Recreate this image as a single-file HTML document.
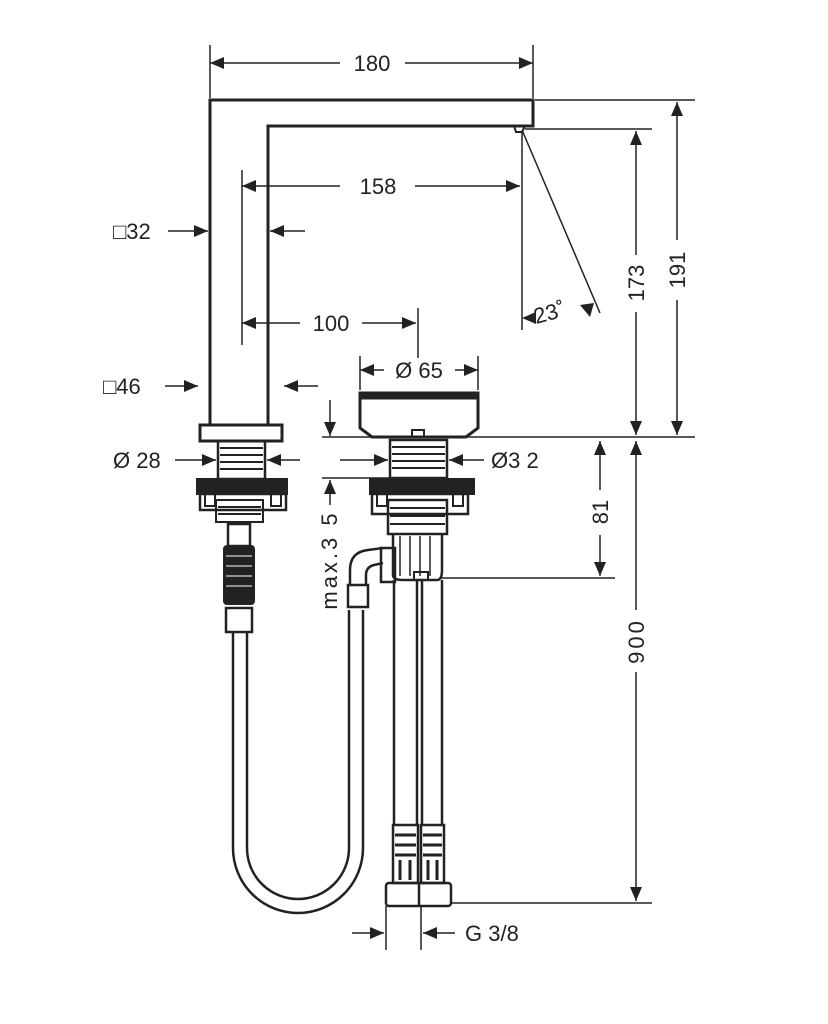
<!DOCTYPE html>
<html><head><meta charset="utf-8"><style>html,body{margin:0;padding:0;background:#fff}svg{display:block}text{font-family:"Liberation Sans",sans-serif;font-size:22px;fill:#222}</style></head>
<body>
<svg width="828" height="1024" viewBox="0 0 828 1024" xmlns="http://www.w3.org/2000/svg">
<defs>
<marker id="a" viewBox="0 0 14 12" refX="14" refY="6" markerWidth="14" markerHeight="12" markerUnits="userSpaceOnUse" orient="auto"><path d="M0,0L14,6L0,12z" fill="#222"/></marker>
</defs>
<g stroke="#222" fill="none">
<path d="M210,425V100H533V126H268V425" stroke-width="3"/>
<path d="M514,126l2,6h6l3,-6" stroke-width="2"/>
<rect x="200" y="425" width="82" height="16" stroke-width="3"/>
<rect x="218" y="441" width="47" height="38" stroke-width="2.5"/>
<path d="M220,448h43M220,455h43M220,462h43M220,469h43" stroke-width="2"/>
<rect x="197" y="479" width="90" height="15" fill="#222" stroke-width="2"/>
<rect x="200" y="494" width="86" height="16" stroke-width="2.5"/>
<path d="M205,494v12h10v-12M271,494v12h10v-12" stroke-width="2"/>
<rect x="216" y="500" width="47" height="22" stroke-width="2"/>
<path d="M218,507h43M218,514h43" stroke-width="2"/>
<rect x="228" y="524" width="22" height="22" stroke-width="2.5"/>
<rect x="224" y="546" width="30" height="58" rx="3" fill="#222" stroke-width="2"/>
<path d="M226,556h26M226,566h26M226,576h26M226,586h26" stroke="#fff" stroke-width="1"/>
<rect x="226" y="608" width="26" height="24" stroke-width="2.5"/>
<path d="M233,632V848A65,65 0 0 0 363,848V610" stroke-width="2.5"/>
<path d="M247,632V848A51,51 0 0 0 349,848V610" stroke-width="2.5"/>
<rect x="348" y="585" width="20" height="22" stroke-width="2.5"/>
<path d="M350,585V570q0,-18 18,-20l15,-2M366,585v-10q0,-8 8,-10l9,-2" stroke-width="2.5"/>
<path d="M381,548h14v34h-14z" stroke-width="2.5"/>
<path d="M360,393H478V428L466,437H372L360,428Z" stroke-width="3"/>
<rect x="360" y="393" width="118" height="6" fill="#222"/>
<rect x="412" y="430" width="12" height="7" stroke-width="2"/>
<rect x="390" y="440" width="57" height="38" stroke-width="2.5"/>
<path d="M392,447h53M392,454h53M392,461h53M392,468h53" stroke-width="2"/>
<rect x="370" y="479" width="104" height="15" fill="#222" stroke-width="2"/>
<rect x="372" y="494" width="96" height="20" stroke-width="2.5"/>
<path d="M377,494v12h10v-12M453,494v12h10v-12" stroke-width="2"/>
<rect x="388" y="500" width="59" height="34" stroke-width="2.5"/>
<path d="M390,508h55M390,516h55M390,524h55" stroke-width="2"/>
<path d="M393,534V575q0,5 10,5h34q5,0 5,-10V534" stroke-width="2.5"/>
<path d="M400,536v40M410,536v40M420,536v40M430,536v40" stroke-width="1.5"/>
<rect x="414" y="572" width="14" height="8" stroke-width="2"/>
<path d="M394,580V825M417,580V825M422,580V825M442,580V825" stroke-width="2.5"/>
<rect x="393" y="825" width="25" height="58" stroke-width="2.5"/>
<rect x="421" y="825" width="23" height="58" stroke-width="2.5"/>
<path d="M395,835h21M395,845h21M395,855h21M423,835h19M423,845h19M423,855h19" stroke-width="3"/>
<path d="M400,860v20M410,860v20M428,860v20M437,860v20" stroke-width="3"/>
<rect x="386" y="883" width="65" height="23" rx="3" stroke-width="2.5"/>
<path d="M419,883v23" stroke-width="2.5"/>
</g>
<g stroke="#222" stroke-width="1.5" fill="none">
<path d="M210,45V98M533,45V98"/>
<path d="M340,63H210" marker-end="url(#a)"/><path d="M405,63H533" marker-end="url(#a)"/>
<path d="M242,170V345M522,132V330"/>
<path d="M340,186H242" marker-end="url(#a)"/><path d="M415,186H520" marker-end="url(#a)"/>
<path d="M522,130L600,313"/>
<path d="M300,323H242" marker-end="url(#a)"/><path d="M362,323H416" marker-end="url(#a)"/>
<path d="M418,308V358"/>
<path d="M168,231H208" marker-end="url(#a)"/><path d="M305,231H270" marker-end="url(#a)"/>
<path d="M165,386H198" marker-end="url(#a)"/><path d="M318,386H284" marker-end="url(#a)"/>
<path d="M175,460H216" marker-end="url(#a)"/><path d="M300,460H267" marker-end="url(#a)"/>
<path d="M360,356V390M478,356V390"/>
<path d="M384,370H360" marker-end="url(#a)"/><path d="M455,370H478" marker-end="url(#a)"/>
<path d="M340,460H388" marker-end="url(#a)"/><path d="M484,460H449" marker-end="url(#a)"/>
<path d="M330,400V436" marker-end="url(#a)"/><path d="M330,505V480" marker-end="url(#a)"/>
<path d="M322,437H372M466,437H695M322,478H390"/>
<path d="M535,100H695M525,129H652"/>
<path d="M636,255V131" marker-end="url(#a)"/><path d="M636,312V435" marker-end="url(#a)"/>
<path d="M677,240V102" marker-end="url(#a)"/><path d="M677,300V435" marker-end="url(#a)"/>
<path d="M636,610V441" marker-end="url(#a)"/><path d="M636,672V901" marker-end="url(#a)"/>
<path d="M600,490V441" marker-end="url(#a)"/><path d="M600,535V576" marker-end="url(#a)"/>
<path d="M440,578H615M451,903H652"/>
<path d="M386,906V950M421,906V950"/>
<path d="M352,933H384" marker-end="url(#a)"/><path d="M455,933H423" marker-end="url(#a)"/>
</g>
<path d="M522,318l14,-6v12z" fill="#222"/>
<path d="M580,305l10,12l4,-14z" fill="#222"/>
<g>
<text x="372" y="71" text-anchor="middle">180</text>
<text x="378" y="194" text-anchor="middle">158</text>
<text x="331" y="331" text-anchor="middle">100</text>
<text x="113" y="239">□32</text>
<text x="103" y="394">□46</text>
<text x="113" y="468">Ø 28</text>
<text x="419" y="378" text-anchor="middle">Ø 65</text>
<text x="491" y="468">Ø3 2</text>
<text x="536" y="324" transform="rotate(-15 536 324)">23˚</text>
<text x="465" y="941">G 3/8</text>
<text transform="translate(337,560) rotate(-90)" text-anchor="middle" letter-spacing="3">max.3 5</text>
<text transform="translate(644,283) rotate(-90)" text-anchor="middle">173</text>
<text transform="translate(685,270) rotate(-90)" text-anchor="middle">191</text>
<text transform="translate(608,512) rotate(-90)" text-anchor="middle">81</text>
<text transform="translate(644,641) rotate(-90)" text-anchor="middle" letter-spacing="3">900</text>
</g>
</svg>
</body></html>
